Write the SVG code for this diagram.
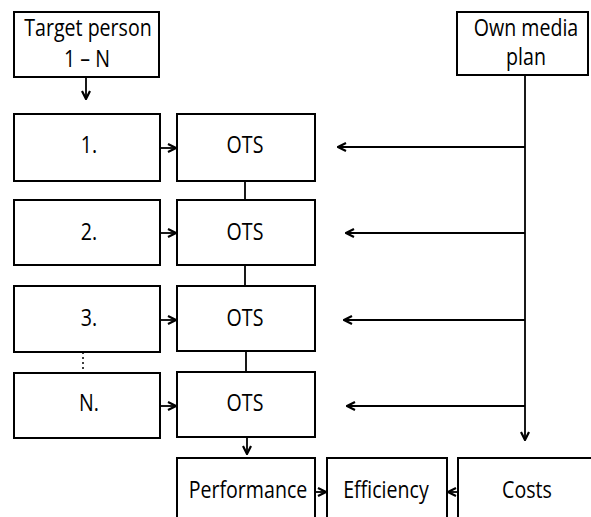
<svg xmlns="http://www.w3.org/2000/svg" width="591" height="517" viewBox="0 0 591 517">
<style>
rect{fill:#fff;stroke:#000;stroke-width:2}
text{font-family:"Open Sans","DejaVu Sans",sans-serif;font-size:19.6px;fill:#000;text-anchor:middle}
.c{fill:none;stroke:#000;stroke-width:1.8}
.d{fill:none;stroke:#000;stroke-width:1.5;stroke-dasharray:2 3}
</style>
<defs>
<marker id="a" viewBox="0 0 10 10" refX="9" refY="5" markerWidth="10" markerHeight="10" markerUnits="userSpaceOnUse" orient="auto">
<path d="M1,1 L9,5 L1,9" fill="none" stroke="#000" stroke-width="2.2"/>
</marker>
</defs>
<g id="target"><rect x="14" y="12" width="145" height="65"/><text transform="translate(88,36) scale(1,1.18)">Target person</text><text transform="translate(87,67) scale(1,1.18)">1 – N</text></g>
<g id="media"><rect x="457" y="12" width="131" height="63"/><text transform="translate(526,36) scale(1,1.18)">Own media</text><text transform="translate(526,65) scale(1,1.18)">plan</text></g>
<g id="p1"><rect x="14" y="114" width="146" height="67"/><text transform="translate(89,153) scale(1,1.18)">1.</text></g>
<g id="o1"><rect x="177" y="114" width="138" height="67"/><text transform="translate(245,153) scale(1,1.18)">OTS</text></g>
<g id="p2"><rect x="14" y="200" width="146" height="65"/><text transform="translate(89,240) scale(1,1.18)">2.</text></g>
<g id="o2"><rect x="177" y="200" width="138" height="65"/><text transform="translate(245,240) scale(1,1.18)">OTS</text></g>
<g id="p3"><rect x="14" y="286" width="146" height="66"/><text transform="translate(89,326) scale(1,1.18)">3.</text></g>
<g id="o3"><rect x="177" y="286" width="138" height="65"/><text transform="translate(245,326) scale(1,1.18)">OTS</text></g>
<g id="pN"><rect x="14" y="373" width="146" height="65"/><text transform="translate(89,411) scale(1,1.18)">N.</text></g>
<g id="oN"><rect x="177" y="372" width="138" height="65"/><text transform="translate(245,411) scale(1,1.18)">OTS</text></g>
<g id="perf"><rect x="177" y="458" width="138" height="70"/><text transform="translate(248,498) scale(1,1.18)">Performance</text></g>
<g id="eff"><rect x="327" y="458" width="120" height="70"/><text transform="translate(386,498) scale(1,1.18)">Efficiency</text></g>
<g id="costs"><rect x="458" y="458" width="145" height="70"/><text transform="translate(527,498) scale(1,1.18)">Costs</text></g>
<g id="connectors">
<path class="c" d="M86,77 V99" marker-end="url(#a)"/>
<path class="c" d="M160,148 H176" marker-end="url(#a)"/>
<path class="c" d="M160,233 H176" marker-end="url(#a)"/>
<path class="c" d="M160,320 H176" marker-end="url(#a)"/>
<path class="c" d="M160,406 H176" marker-end="url(#a)"/>
<path class="c" d="M245,181 V200 M245,265 V286 M246,351 V372"/>
<path class="d" d="M83,352 V373"/>
<path class="c" d="M247,437 V454" marker-end="url(#a)"/>
<path class="c" d="M525,75 V440" marker-end="url(#a)"/>
<path class="c" d="M525,147 H338" marker-end="url(#a)"/>
<path class="c" d="M525,233 H346" marker-end="url(#a)"/>
<path class="c" d="M525,320 H344" marker-end="url(#a)"/>
<path class="c" d="M525,406 H347" marker-end="url(#a)"/>
<path class="c" d="M315,492 H326" marker-end="url(#a)"/>
<path class="c" d="M458,492 H448" marker-end="url(#a)"/>
</g>
</svg>
